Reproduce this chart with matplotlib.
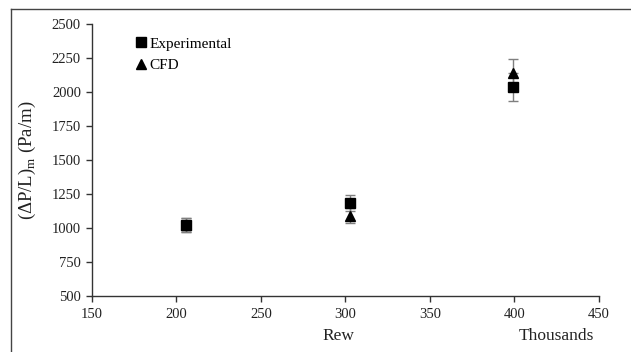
import matplotlib
matplotlib.use("Agg")
import matplotlib.pyplot as plt
from matplotlib.lines import Line2D

plt.rcParams['font.family'] = ['Liberation Serif', 'DejaVu Serif']
plt.rcParams['mathtext.fontset'] = 'custom'
plt.rcParams['mathtext.rm'] = 'Liberation Serif'

rew = [205.5, 303.0, 399.5]
exp_vals = [1020, 1180, 2038]
cfd_vals = [1020, 1090, 2137]
exp_err = [51, 59, 102]
cfd_err = [51, 55, 107]

xticks = [150, 200, 250, 300, 350, 400, 450]
yticks = [500, 750, 1000, 1250, 1500, 1750, 2000, 2250, 2500]

fig = plt.figure(figsize=(6.31, 3.52), dpi=100)
ax = fig.add_axes([0.1458, 0.16, 0.803, 0.772])

ecol = '#7f7f7f'
ax.errorbar(rew, cfd_vals, yerr=cfd_err, fmt='none', ecolor=ecol, elinewidth=1.0,
            capsize=3.5, capthick=1.0, zorder=2)
ax.errorbar(rew, exp_vals, yerr=exp_err, fmt='none', ecolor=ecol, elinewidth=1.0,
            capsize=3.5, capthick=1.0, zorder=2)
ax.plot(rew, cfd_vals, linestyle='none', marker='^', markersize=6.5, color='black',
        label='CFD', zorder=3)
ax.plot(rew, exp_vals, linestyle='none', marker='s', markersize=6.5, color='black',
        label='Experimental', zorder=4)

ax.set_xlim(150, 450)
ax.set_ylim(500, 2500)
ax.set_xticks(xticks)
ax.set_yticks(yticks)
ax.tick_params(direction='out', length=4, width=1, colors='#333333',
               labelsize=10.5, labelcolor='#222222', pad=4)
ax.tick_params(axis='x', pad=5)
for s in ['top', 'right']:
    ax.spines[s].set_visible(False)
for s in ['left', 'bottom']:
    ax.spines[s].set_color('#333333')
    ax.spines[s].set_linewidth(1.0)

ax.set_ylabel(r'($\Delta$P/L)$_\mathregular{m}$ (Pa/m)', fontsize=13.5, color='#222222', labelpad=10)
fig.text(0.537, 0.035, 'Rew', fontsize=12.5, ha='center', va='baseline', color='#222222')
fig.text(0.942, 0.035, 'Thousands', fontsize=12.5, ha='right', va='baseline', color='#222222')

h, l = ax.get_legend_handles_labels()
ax.legend(h[::-1], l[::-1], loc='upper left', bbox_to_anchor=(0.075, 0.975), frameon=False,
          handlelength=0.6, handletextpad=0.25, labelspacing=0.5, fontsize=11,
          borderaxespad=0)

# figure frame lines (left and top)
fig.add_artist(Line2D([0.0175, 0.0175], [0.0, 0.975], transform=fig.transFigure,
                      color='#444444', linewidth=1.0))
fig.add_artist(Line2D([0.0175, 1.0], [0.975, 0.975], transform=fig.transFigure,
                      color='#444444', linewidth=1.0))

fig.savefig('out.png', dpi=100)
